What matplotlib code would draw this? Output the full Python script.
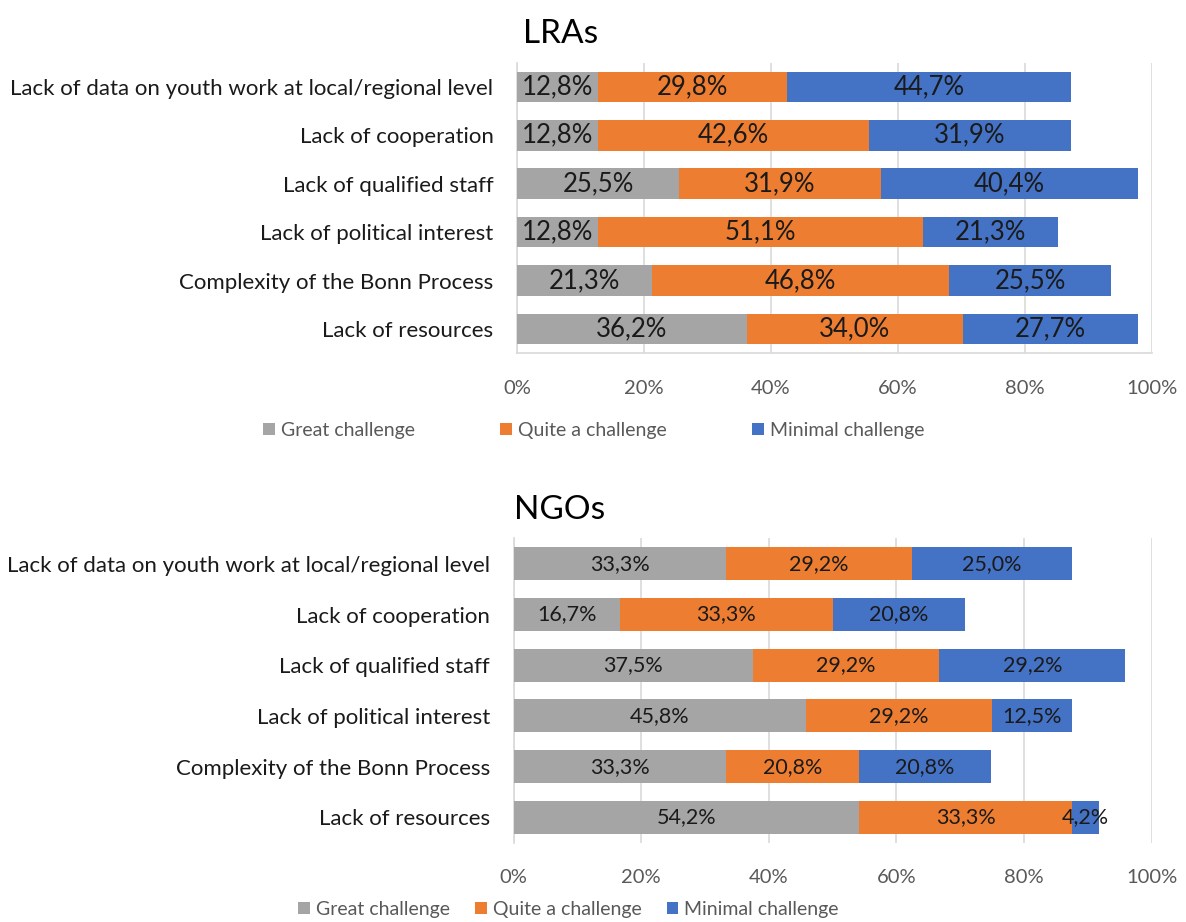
import numpy as np
import matplotlib.pyplot as plt

plt.rcParams["font.family"] = ["Lato", "DejaVu Sans"]

# categories, bottom row first
categories = [
    "Lack of resources",
    "Complexity of the Bonn Process",
    "Lack of political interest",
    "Lack of qualified staff",
    "Lack of cooperation",
    "Lack of data on youth work at local/regional level",
]
series_names = ["Great challenge", "Quite a challenge", "Minimal challenge"]
colors = ["#A5A5A5", "#ED7D31", "#4472C4"]

lra_great = [36.2, 21.3, 12.8, 25.5, 12.8, 12.8]
lra_quite = [34.0, 46.8, 51.1, 31.9, 42.6, 29.8]
lra_minimal = [27.7, 25.5, 21.3, 40.4, 31.9, 44.7]

ngo_great = [54.2, 33.3, 45.8, 37.5, 16.7, 33.3]
ngo_quite = [33.3, 20.8, 29.2, 29.2, 33.3, 29.2]
ngo_minimal = [4.2, 20.8, 12.5, 29.2, 20.8, 25.0]

x_ticks = [0, 20, 40, 60, 80, 100]


def fmt(v):
    return f"{v:.1f}%".replace(".", ",")


def draw_panel(ax, title, data, bar_h, label_size, bottom_line, title_x,
               leg_anchor, leg_gap):
    y = np.arange(len(categories))
    left = np.zeros(len(categories))
    handles = []
    for vals, name, col in zip(data, series_names, colors):
        vals = np.array(vals)
        b = ax.barh(y, vals, left=left, height=bar_h, color=col, label=name,
                    zorder=3)
        handles.append(b)
        for yi, l, v in zip(y, left, vals):
            ax.text(l + v / 2, yi, fmt(v), ha="center", va="center",
                    fontsize=label_size, color="#1a1a1a", zorder=4)
        left = left + vals

    ax.set_xlim(0, 100)
    ax.set_ylim(-0.5, len(categories) - 0.5)
    ax.set_xticks(x_ticks)
    ax.set_xticklabels([f"{t}%" for t in x_ticks])
    ax.set_yticks(y)
    ax.set_yticklabels(categories)
    ax.tick_params(axis="x", length=0, pad=19, labelsize=14.5, labelcolor="#595959")
    ax.tick_params(axis="y", length=0, pad=17, labelsize=16, labelcolor="#1a1a1a")
    ax.grid(axis="x", color="#d9d9d9", linewidth=1.2, zorder=0)
    for s in ["top", "right"]:
        ax.spines[s].set_visible(False)
    ax.spines["left"].set_color("#d9d9d9")
    ax.spines["left"].set_linewidth(1.2)
    if bottom_line:
        ax.spines["bottom"].set_color("#d9d9d9")
        ax.spines["bottom"].set_linewidth(1.2)
    else:
        ax.spines["bottom"].set_visible(False)
    ax.set_title(title, fontsize=24, pad=14, x=title_x)

    leg = ax.legend(handles=handles, loc="center", bbox_to_anchor=leg_anchor,
                    ncol=3, frameon=False, fontsize=14, handlelength=0.6,
                    handleheight=0.6, handletextpad=0.3,
                    columnspacing=leg_gap)
    for t in leg.get_texts():
        t.set_color("#595959")


fig = plt.figure(figsize=(11.86, 9.22), dpi=100)
ax1 = fig.add_axes([0.436, 0.617, 0.535, 0.315])
ax2 = fig.add_axes([0.433, 0.086, 0.538, 0.330])

draw_panel(ax1, "LRAs", [lra_great, lra_quite, lra_minimal], 0.63, 18.5, True,
           0.068, (0.121, -0.266), 4.4)
draw_panel(ax2, "NGOs", [ngo_great, ngo_quite, ngo_minimal], 0.65, 15.5, False,
           0.072, (0.086, -0.218), 1.3)

fig.savefig("out.png", dpi=100)
